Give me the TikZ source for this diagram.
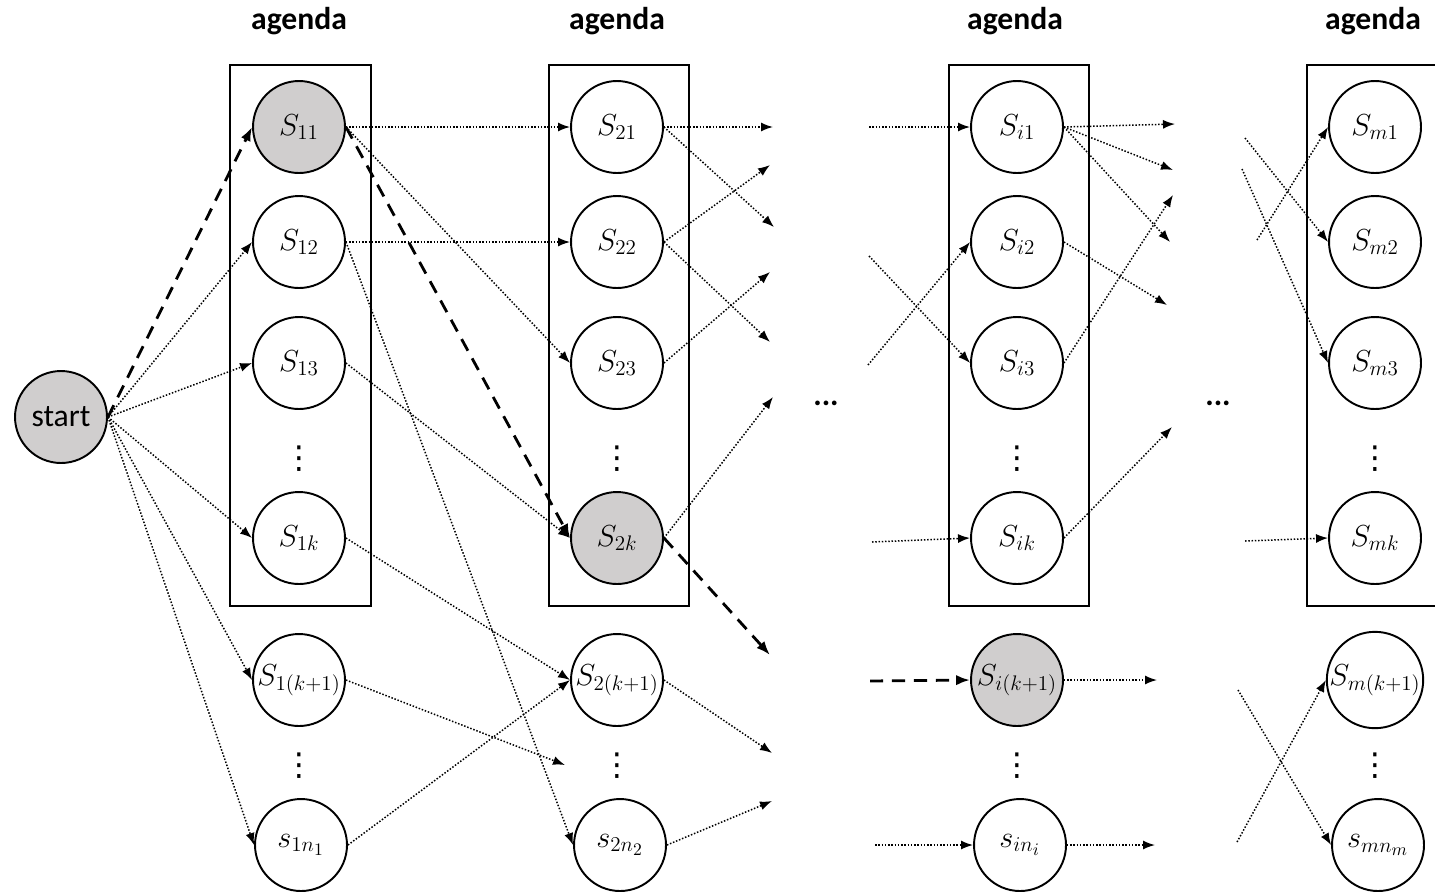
\documentclass[tikz,border=0pt]{standalone}
\usepackage{fontspec}
\setmainfont{Carlito}
\newfontfamily\symfont{DejaVu Sans}
\DeclareMathSizes{18}{18}{13}{10}
\usetikzlibrary{arrows.meta}
\definecolor{nodegray}{RGB}{208,206,206}

\begin{document}
\begin{tikzpicture}[x=0.02cm,y=-0.02cm,
  sstate/.style={circle,draw,line width=1.1pt,minimum size=1.84cm,inner sep=0pt,font=\fontsize{18}{21}\selectfont},
  chosen/.style={sstate,fill=nodegray},
  vd/.style={font=\fontsize{18}{21}\symfont,inner sep=0pt},
  lbl/.style={font=\fontsize{18}{22}\selectfont\bfseries,anchor=base},
  agendabox/.style={draw,line width=1.1pt},
  trans/.style={densely dotted,line width=0.85pt,-{Latex[length=2.4mm,width=1.8mm]}},
  bestpath/.style={line width=1.6pt,dash pattern=on 7.5pt off 5pt,-{Latex[length=2.8mm,width=2.1mm]}}]
  \clip (0,0) rectangle (1435,893);

  %% agenda boxes and titles
  \draw[agendabox] (230,65) rectangle (371,606);
  \draw[agendabox] (549,65) rectangle (689,606);
  \draw[agendabox] (949,65) rectangle (1089,606);
  \draw[agendabox] (1307,65) rectangle (1460,606);
  \node[lbl] (ag1) at (299,29) {agenda};
  \node[lbl] (ag2) at (617,29) {agenda};
  \node[lbl] (agi) at (1015,29) {agenda};
  \node[lbl] (agm) at (1373,29) {agenda};
  \node[lbl] (dotsa) at (826,405) {...};
  \node[lbl] (dotsb) at (1218,405) {...};

  \node[chosen,font=\fontsize{18}{22}\selectfont] (start) at (61,417) {start};

  %% column 1
  \node[chosen] (s11) at (299,127) {$S_{11}$};
  \node[sstate] (s12) at (299,242) {$S_{12}$};
  \node[sstate] (s13) at (299,363) {$S_{13}$};
  \node[vd] (v1a) at (299,459) {⋮};
  \node[sstate] (s1k) at (299,538) {$S_{1k}$};
  \node[sstate] (s1kk) at (299,680) {$S_{1(k+1)}$};
  \node[vd] (v1b) at (299,766) {⋮};
  \node[sstate] (s1n) at (301,845) {$s_{1n_1}$};

  %% column 2
  \node[sstate] (s21) at (617,127) {$S_{21}$};
  \node[sstate] (s22) at (617,242) {$S_{22}$};
  \node[sstate] (s23) at (617,363) {$S_{23}$};
  \node[vd] (v2a) at (617,459) {⋮};
  \node[chosen] (s2k) at (617,538) {$S_{2k}$};
  \node[sstate] (s2kk) at (617,680) {$S_{2(k+1)}$};
  \node[vd] (v2b) at (617,766) {⋮};
  \node[sstate] (s2n) at (620,845) {$s_{2n_2}$};

  %% column i
  \node[sstate] (si1) at (1017,127) {$S_{i1}$};
  \node[sstate] (si2) at (1017,242) {$S_{i2}$};
  \node[sstate] (si3) at (1017,363) {$S_{i3}$};
  \node[vd] (via) at (1017,459) {⋮};
  \node[sstate] (sik) at (1017,538) {$S_{ik}$};
  \node[chosen] (sikk) at (1017,680) {$S_{i(k+1)}$};
  \node[vd] (vib) at (1017,766) {⋮};
  \node[sstate] (sin) at (1020,845) {$s_{in_i}$};

  %% column m
  \node[sstate] (sm1) at (1375,127) {$S_{m1}$};
  \node[sstate] (sm2) at (1375,242) {$S_{m2}$};
  \node[sstate] (sm3) at (1375,363) {$S_{m3}$};
  \node[vd] (vma) at (1375,459) {⋮};
  \node[sstate] (smk) at (1375,538) {$S_{mk}$};
  \node[sstate] (smkk) at (1375,680) {$S_{m(k+1)}$};
  \node[vd] (vmb) at (1375,766) {⋮};
  \node[sstate] (smn) at (1378,845) {$s_{mn_m}$};

  %% loose ends
  \coordinate (e1) at (565,765);
  \coordinate (a1) at (773,127);
  \coordinate (a2) at (774,227);
  \coordinate (a3) at (770,165);
  \coordinate (a4) at (770,342);
  \coordinate (a5) at (770,272);
  \coordinate (a6) at (773,397);
  \coordinate (a7) at (770,655);
  \coordinate (a8) at (772,753);
  \coordinate (a9) at (772,801);
  \coordinate (b1) at (869,127);
  \coordinate (b2) at (869,256);
  \coordinate (b3) at (868,365);
  \coordinate (b4) at (872,542);
  \coordinate (b5) at (870,681);
  \coordinate (b6) at (875,845);
  \coordinate (c1) at (1175,124);
  \coordinate (c2) at (1173,170);
  \coordinate (c3) at (1170,242);
  \coordinate (c4) at (1167,305);
  \coordinate (c5) at (1173,195);
  \coordinate (c6) at (1172,427);
  \coordinate (c7) at (1157,680);
  \coordinate (c8) at (1155,845);
  \coordinate (d1) at (1257,240);
  \coordinate (d2) at (1245,138);
  \coordinate (d3) at (1242,169);
  \coordinate (d4) at (1245,541);
  \coordinate (d5) at (1238,690);
  \coordinate (d6) at (1237,842);

  %% from start
  \draw[bestpath] (start.east) -- (s11.west);
  \foreach \t in {s12,s13,s1k,s1kk,s1n}
    \draw[trans] (start.east) -- (\t.west);

  %% column 1 -> column 2
  \draw[trans] (s11.east) -- (s21.west);
  \draw[trans] (s11.east) -- (s23.west);
  \draw[bestpath] (s11.east) -- (s2k.west);
  \draw[trans] (s12.east) -- (s22.west);
  \draw[trans] (s12.east) -- (s2n.west);
  \draw[trans] (s13.east) -- (s2k.west);
  \draw[trans] (s1k.east) -- (s2kk.west);
  \draw[trans] (s1kk.east) -- (e1);
  \draw[trans] (s1n.east) -- (s2kk.west);

  %% column 2 -> ...
  \draw[trans] (s21.east) -- (a1);
  \draw[trans] (s21.east) -- (a2);
  \draw[trans] (s22.east) -- (a3);
  \draw[trans] (s22.east) -- (a4);
  \draw[trans] (s23.east) -- (a5);
  \draw[trans] (s2k.east) -- (a6);
  \draw[bestpath] (s2k.east) -- (a7);
  \draw[trans] (s2kk.east) -- (a8);
  \draw[trans] (s2n.east) -- (a9);

  %% ... -> column i
  \draw[trans] (b1) -- (si1.west);
  \draw[trans] (b2) -- (si3.west);
  \draw[trans] (b3) -- (si2.west);
  \draw[trans] (b4) -- (sik.west);
  \draw[bestpath] (b5) -- (sikk.west);
  \draw[trans] (b6) -- (sin.west);

  %% column i -> ...
  \draw[trans] (si1.east) -- (c1);
  \draw[trans] (si1.east) -- (c2);
  \draw[trans] (si1.east) -- (c3);
  \draw[trans] (si2.east) -- (c4);
  \draw[trans] (si3.east) -- (c5);
  \draw[trans] (sik.east) -- (c6);
  \draw[trans] (sikk.east) -- (c7);
  \draw[trans] (sin.east) -- (c8);

  %% ... -> column m
  \draw[trans] (d1) -- (sm1.west);
  \draw[trans] (d2) -- (sm2.west);
  \draw[trans] (d3) -- (sm3.west);
  \draw[trans] (d4) -- (smk.west);
  \draw[trans] (d5) -- (smn.west);
  \draw[trans] (d6) -- (smkk.west);
\end{tikzpicture}
\end{document}
